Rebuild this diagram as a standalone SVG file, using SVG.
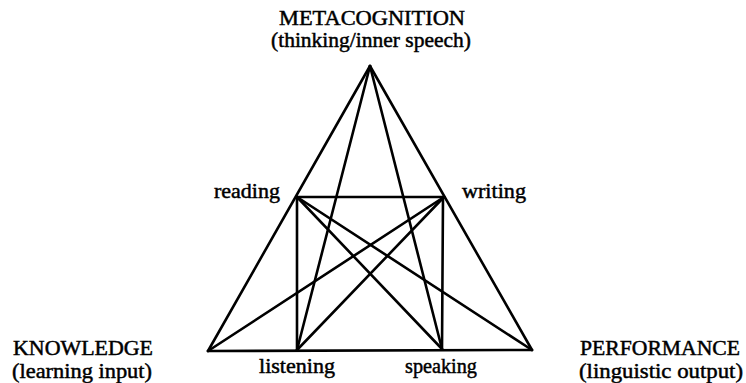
<svg xmlns="http://www.w3.org/2000/svg" width="746" height="383" viewBox="0 0 746 383">
<style>
.t{font-family:"Liberation Serif","Times New Roman",serif;font-size:20px;fill:#000;stroke:#000;stroke-width:0.45}
.m{text-anchor:middle}
.c line{stroke:#000;stroke-width:2.6;stroke-linecap:round}
</style>
<rect width="746" height="383" fill="#fff"/>
<g id="connectors" class="c">
<line x1="370" y1="66" x2="208" y2="351"/>
<line x1="370" y1="66" x2="532" y2="350"/>
<line x1="208" y1="351" x2="532" y2="350"/>
<line x1="297" y1="197" x2="444" y2="197"/>
<line x1="297" y1="197" x2="297" y2="350"/>
<line x1="443" y1="197" x2="442" y2="349"/>
<line x1="370" y1="66" x2="297" y2="350"/>
<line x1="370" y1="66" x2="442" y2="349"/>
<line x1="297" y1="197" x2="442" y2="349"/>
<line x1="297" y1="197" x2="532" y2="350"/>
<line x1="444" y1="197" x2="297" y2="350"/>
<line x1="444" y1="197" x2="208" y2="351"/>
</g>
<g id="metacognition">
<text class="t m" x="372" y="25" textLength="186" lengthAdjust="spacingAndGlyphs">METACOGNITION</text>
<text class="t m" x="371" y="47" textLength="200" lengthAdjust="spacingAndGlyphs">(thinking/inner speech)</text>
</g>
<g id="reading"><text class="t" x="214" y="198" textLength="66" lengthAdjust="spacingAndGlyphs">reading</text></g>
<g id="writing"><text class="t" x="462" y="198" textLength="64" lengthAdjust="spacingAndGlyphs">writing</text></g>
<g id="knowledge">
<text class="t" x="13" y="355" textLength="140" lengthAdjust="spacingAndGlyphs">KNOWLEDGE</text>
<text class="t" x="12" y="378" textLength="140" lengthAdjust="spacingAndGlyphs">(learning input)</text>
</g>
<g id="listening"><text class="t" x="259" y="373" textLength="76" lengthAdjust="spacingAndGlyphs">listening</text></g>
<g id="speaking"><text class="t" x="405" y="373" textLength="72" lengthAdjust="spacingAndGlyphs">speaking</text></g>
<g id="performance">
<text class="t" x="580" y="355" textLength="160" lengthAdjust="spacingAndGlyphs">PERFORMANCE</text>
<text class="t" x="579" y="378" textLength="164" lengthAdjust="spacingAndGlyphs">(linguistic output)</text>
</g>
</svg>
